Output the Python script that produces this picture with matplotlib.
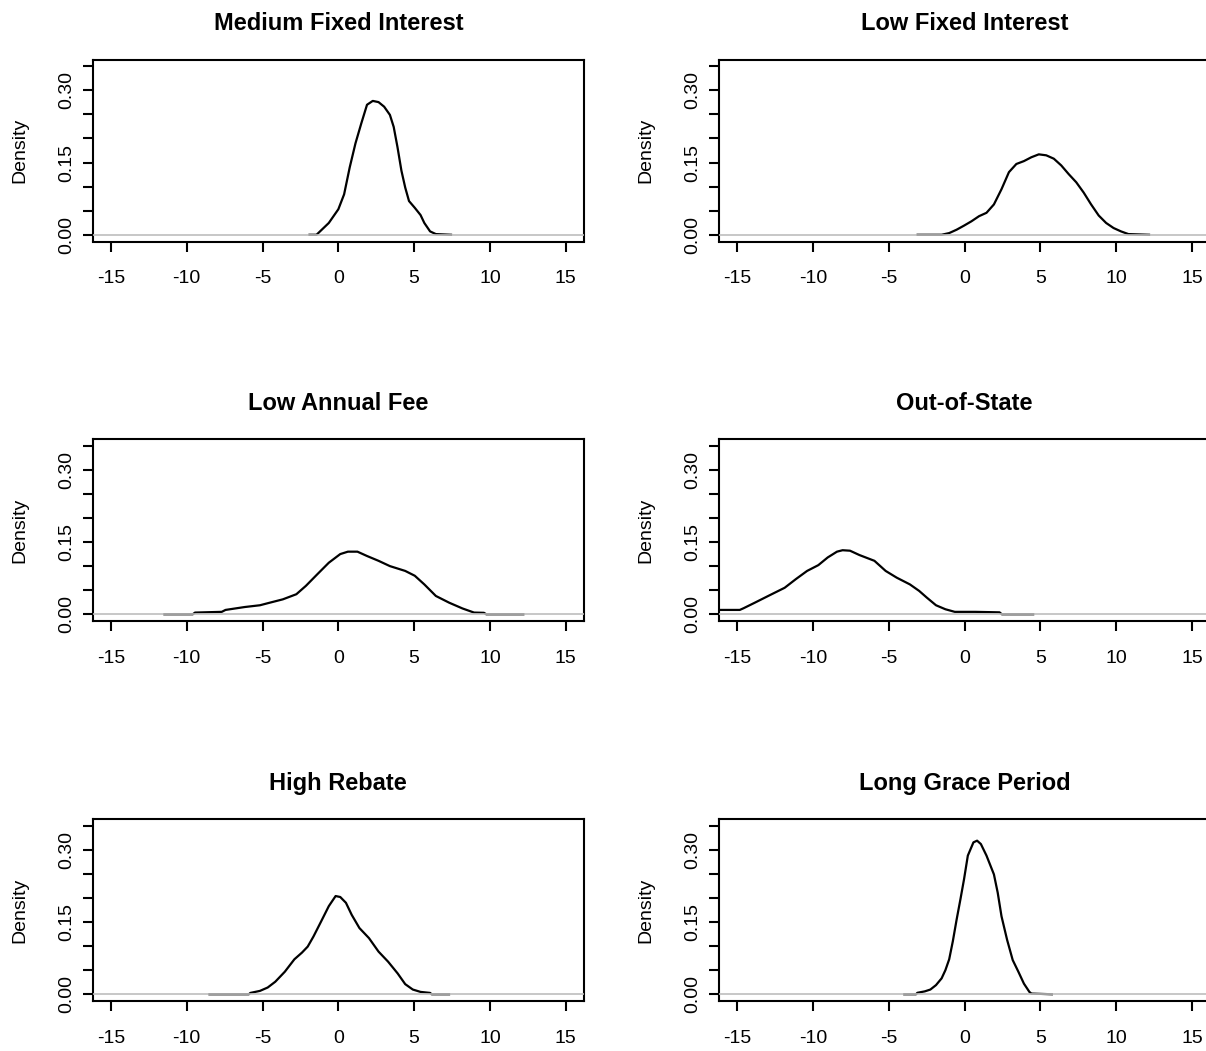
"""
Posterior density plots for six attribute levels (R base-graphics look),
laid out 3 x 2 with the right column running off the edge of the page.
Output: out.png
"""
import matplotlib

matplotlib.use("Agg")
import matplotlib.pyplot as plt

plt.rcParams["font.family"] = ["Liberation Sans", "DejaVu Sans"]

# ── data ──────────────────────────────────────────────────
titles = ["Medium Fixed Interest", "Low Fixed Interest", "Low Annual Fee",
          "Out-of-State", "High Rebate", "Long Grace Period"]

medium_fixed_x = [-1.9, -1.44, -0.63, 0.0, 0.38, 0.75, 1.13, 1.51, 1.89, 2.27, 2.65,
                  3.02, 3.40, 3.65, 3.90, 4.16, 4.41, 4.66, 5.04, 5.42, 5.67, 6.05,
                  6.43, 7.43]
medium_fixed_y = [0.0, 0.0, 0.0245, 0.053, 0.084, 0.14, 0.19, 0.231, 0.27, 0.278, 0.2755,
                  0.266, 0.249, 0.224, 0.182, 0.133, 0.098, 0.070, 0.056, 0.041, 0.0245,
                  0.007, 0.0014, 0.0]

low_fixed_x = [-3.1, -1.52, -1.02, -0.53, -0.04, 0.45, 0.95, 1.44, 1.93, 2.43, 2.92,
               3.41, 3.91, 4.40, 4.89, 5.38, 5.88, 6.37, 6.86, 7.36, 7.85, 8.34, 8.84,
               9.33, 9.82, 10.31, 10.8, 12.16]
low_fixed_y = [0.0, 0.0, 0.0035, 0.0105, 0.019, 0.028, 0.0386, 0.0456, 0.063, 0.0946,
               0.130, 0.147, 0.153, 0.161, 0.167, 0.165, 0.158, 0.144, 0.126, 0.109,
               0.0876, 0.063, 0.040, 0.0245, 0.014, 0.007, 0.0014, 0.0]

low_fee_x = [-11.47, -9.6, -9.45, -7.69, -7.44, -6.18, -5.17, -4.66, -3.66, -2.77, -2.14,
             -1.39, -0.63, 0.125, 0.63, 1.26, 1.89, 2.65, 3.40, 4.41, 5.04, 5.67, 6.43,
             7.31, 8.19, 8.95, 9.6, 9.75, 12.2]
low_fee_y = [0.0, 0.0, 0.0035, 0.005, 0.009, 0.015, 0.0187, 0.0229, 0.031, 0.0416, 0.059,
             0.083, 0.107, 0.125, 0.130, 0.130, 0.121, 0.111, 0.100, 0.090, 0.080, 0.062,
             0.038, 0.024, 0.012, 0.0035, 0.003, 0.0, 0.0]

out_state_x = [-16.5, -14.83, -14.58, -13.84, -12.86, -11.87, -11.13, -10.39, -9.65,
               -9.03, -8.42, -8.05, -7.56, -6.94, -5.95, -5.21, -4.48, -3.61, -3.0,
               -2.50, -1.89, -1.27, -0.65, 0.70, 2.30, 2.45, 4.52]
out_state_y = [0.009, 0.009, 0.0125, 0.024, 0.0395, 0.055, 0.073, 0.090, 0.102, 0.118,
               0.130, 0.133, 0.132, 0.123, 0.111, 0.090, 0.076, 0.062, 0.0485, 0.0347,
               0.0187, 0.0104, 0.005, 0.005, 0.004, 0.0, 0.0]

high_rebate_x = [-8.5, -5.9, -5.80, -5.17, -4.66, -4.16, -3.53, -2.90, -2.40, -2.02,
                 -1.64, -1.14, -0.63, -0.18, 0.125, 0.50, 0.88, 1.39, 2.02, 2.65, 3.28,
                 3.91, 4.41, 4.91, 5.42, 6.05, 6.15, 7.3]
high_rebate_y = [0.0, 0.0, 0.0028, 0.007, 0.014, 0.026, 0.0468, 0.0726, 0.0865, 0.099,
                 0.120, 0.151, 0.183, 0.204, 0.202, 0.190, 0.165, 0.1375, 0.1166, 0.0886,
                 0.0677, 0.0433, 0.021, 0.0098, 0.0049, 0.0028, 0.0, 0.0]

grace_x = [-3.98, -3.2, -3.12, -2.63, -2.26, -1.89, -1.52, -1.27, -1.02, -0.78, -0.53,
           -0.28, -0.04, 0.21, 0.58, 0.82, 1.07, 1.44, 1.93, 2.18, 2.43, 2.80, 3.17,
           3.54, 3.91, 4.27, 4.40, 5.75]
grace_y = [0.0, 0.0, 0.003, 0.006, 0.0098, 0.019, 0.033, 0.050, 0.0726, 0.110, 0.155,
           0.197, 0.239, 0.288, 0.3155, 0.319, 0.312, 0.288, 0.249, 0.211, 0.162, 0.113,
           0.071, 0.047, 0.022, 0.0049, 0.0014, 0.0]

x_ticks = [-15, -10, -5, 0, 5, 10, 15]
y_ticks = [0.0, 0.05, 0.10, 0.15, 0.20, 0.25, 0.30, 0.35]
y_tick_labels = ["0.00", "", "", "0.15", "", "", "0.30", ""]

curves = [(medium_fixed_x, medium_fixed_y), (low_fixed_x, low_fixed_y),
          (low_fee_x, low_fee_y), (out_state_x, out_state_y),
          (high_rebate_x, high_rebate_y), (grace_x, grace_y)]

# ── layout (pixels, top-left origin) ──────────────────────
W, H = 1206, 1051
COL_LEFT = [92.7, 719.0]
ROW_TOP = [59.5, 439.0, 819.0]
BOX_W, BOX_H = 491.3, 182.0

fig = plt.figure(figsize=(W / 100, H / 100), dpi=100)

for i, (title, (xs, ys)) in enumerate(zip(titles, curves)):
    r, c = divmod(i, 2)
    ax = fig.add_axes([COL_LEFT[c] / W, 1 - (ROW_TOP[r] + BOX_H) / H,
                       BOX_W / W, BOX_H / H])
    ax.plot(xs, ys, color="black", lw=1.6, zorder=2)
    ax.axhline(0, color="#bebebe", lw=1.2, zorder=3)  # zero line like plot.density

    ax.set_xlim(-16.2, 16.2)
    ax.set_ylim(-0.014, 0.364)
    ax.set_xticks(x_ticks)
    ax.set_xticklabels([str(t) for t in x_ticks])
    ax.set_yticks(y_ticks)
    ax.set_yticklabels(y_tick_labels, rotation=90, va="center")

    ax.tick_params(axis="both", direction="out", length=7.2, width=1.5,
                   labelsize=14, color="black")
    ax.tick_params(axis="x", pad=13.5)
    ax.tick_params(axis="y", pad=5.5)
    for sp in ax.spines.values():
        sp.set_linewidth(1.5)

    ax.set_title(title, fontsize=17, fontweight="bold", pad=21)
    ax.set_ylabel("Density", fontsize=14, va="center")
    ax.yaxis.set_label_coords(-73 / BOX_W, 0.5)

fig.savefig("out.png", dpi=100)
